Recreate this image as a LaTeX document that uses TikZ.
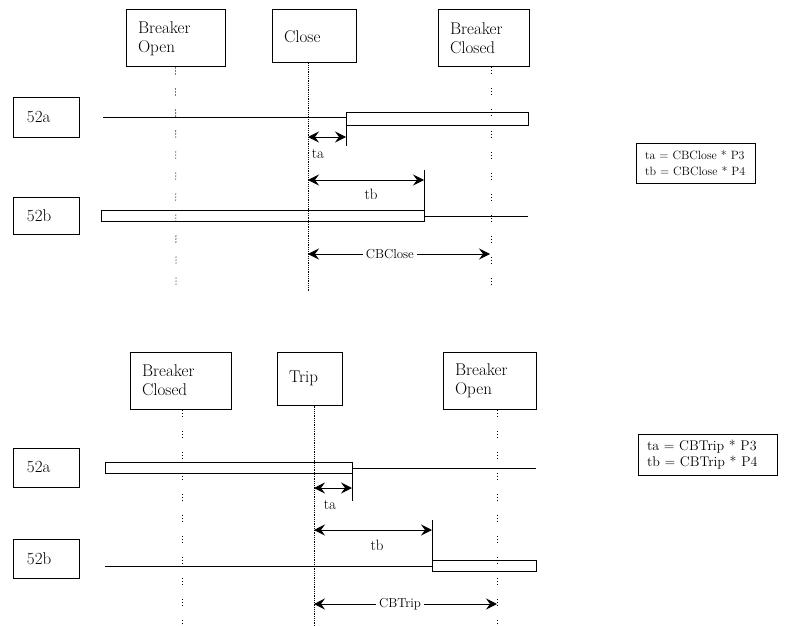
\documentclass[tikz,border=0pt]{standalone}
\usetikzlibrary{arrows.meta}
\begin{document}
\begin{tikzpicture}[x=1pt,y=-1pt,line width=0.8pt,
evbox/.style={draw,rectangle,line width=1pt,align=left,inner xsep=12pt,inner ysep=0pt,font=\fontsize{17}{19}\selectfont},
sigbox/.style={draw,rectangle,line width=1pt,align=left,inner xsep=14pt,text width=38pt,minimum height=39pt,font=\fontsize{17}{19}\selectfont},
notebox/.style={draw,rectangle,line width=1pt,align=left,inner ysep=0pt},
life/.style={line width=0.8pt,dash pattern=on 1pt off 2pt on 1pt off 2pt on 1pt off 14pt},
trig/.style={line width=0.8pt,densely dotted},
span/.style={line width=1pt,{Stealth[length=11pt,width=11pt,inset=4pt]}-{Stealth[length=11pt,width=11pt,inset=4pt]}},
lbl/.style={font=\fontsize{15}{16}\selectfont,inner sep=1pt},
cblbl/.style={font=\fontsize{13}{14}\selectfont,fill=white,inner sep=3pt}]
\useasboundingbox (0,0) rectangle (812,626);
% closing sequence
\draw (175.5,38.5) node[evbox,text width=75pt,minimum height=57pt] (bopen) {Breaker\\Open};
\draw (314,36.5) node[evbox,text width=60pt,minimum height=53pt] (close) {Close};
\draw (483.5,38.5) node[evbox,text width=67pt,minimum height=57pt] (bclosed) {Breaker\\Closed};
\draw (46,117.5) node[sigbox] (sa) {52a};
\draw (46,215.5) node[sigbox,minimum height=37pt] (sb) {52b};
\draw (695.5,163) node[notebox,inner xsep=9pt,text width=101pt,minimum height=40pt,font=\fontsize{12}{16}\selectfont] (nclose) {ta = CBClose * P3\\tb = CBClose * P4};
\coordinate (lo) at (176,292);
\coordinate (lc) at (308,292);
\coordinate (lk) at (491,292);
\draw[life] (bopen.south) -- (lo);
\draw[trig] (close.south -| lc) -- (lc);
\draw[life] (bclosed.south -| lk) -- (lk);
% 52a closes after ta
\draw (103,117) -- (346,117);
\draw (346,112) rectangle (528,125);
\draw (346,112) -- (346,146);
\draw[span] (308,137) -- (346,137);
\draw (318,154) node[lbl] {ta};
% 52b opens after tb
\draw[span] (308,180) -- (424,180);
\draw (371,194) node[lbl] {tb};
\draw (101,210) rectangle (424,221);
\draw (424,170) -- (424,216) -- (528,216);
\draw[span] (308,254) -- (490,254) node[cblbl,pos=.45] {CBClose};
% tripping sequence
\draw (180.5,380.5) node[evbox,text width=77pt,minimum height=57pt] (bclosed2) {Breaker\\Closed};
\draw (309.5,378.5) node[evbox,text width=41pt,minimum height=53pt] (trip) {Trip};
\draw (489.5,380.5) node[evbox,text width=69pt,minimum height=57pt] (bopen2) {Breaker\\Open};
\draw (46,467.5) node[sigbox] (sa2) {52a};
\draw (46,558.5) node[sigbox] (sb2) {52b};
\draw (707.5,454.5) node[notebox,inner xsep=9pt,text width=121pt,minimum height=41pt,font=\fontsize{14}{16}\selectfont] (ntrip) {ta = CBTrip * P3\\tb = CBTrip * P4};
\coordinate (lk2) at (182,626);
\coordinate (lt) at (314,626);
\coordinate (lo2) at (497,626);
\draw[life] (bclosed2.south -| lk2) -- (lk2);
\draw[trig] (trip.south -| lt) -- (lt);
\draw[life] (bopen2.south -| lo2) -- (lo2);
% 52a opens after ta
\draw (105,462) rectangle (352,473);
\draw (352,468) -- (536,468);
\draw (352,462) -- (352,501);
\draw[span] (314,488) -- (352,488);
\draw (330,505) node[lbl] {ta};
% 52b closes after tb
\draw[span] (314,530) -- (432,530);
\draw (377,545) node[lbl] {tb};
\draw (105,566) -- (432,566);
\draw (432,520) -- (432,571);
\draw (432,560) rectangle (536,571);
\draw[span] (314,604) -- (497,604) node[cblbl,pos=.47] {CBTrip};
\end{tikzpicture}
\end{document}
